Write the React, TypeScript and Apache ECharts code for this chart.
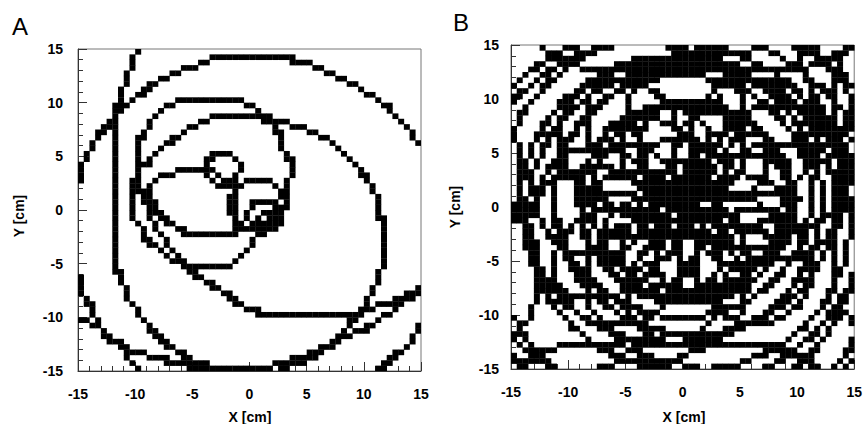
import React, { useEffect, useRef } from "react";
import * as echarts from "echarts";

// ---- binning of the histogram (cm) ----
const BIN = 0.5;
const LO = -15;
const HI = 15;
const NBINS = 60;
const SAMPLE_STEP = 0.4;

// ---- axis ticks ----
const AXIS_MIN = -15;
const AXIS_MAX = 15;
const MAJOR_STEP = 5;

// ---- panel labels / titles ----
const panelLabels = ["A", "B"];
const xTitle = "X [cm]";
const yTitle = "Y [cm]";

// ================= Panel A tracks (waypoints in cm) =================
const trackA_outerTop = [
  [14.9, 6.2], [13.4, 8.2], [12.2, 9.5], [10.8, 10.6], [9.0, 11.7], [7.3, 12.6], [4.9, 13.7],
  [2.9, 14.2], [-0.3, 14.2], [-1.7, 14.1], [-3.5, 14.0], [-5.7, 13.0], [-7.5, 12.3], [-8.9, 11.3],
  [-10.5, 10.1], [-11.9, 8.7], [-12.4, 7.9], [-13.6, 6.4], [-14.2, 5.1], [-14.8, 3.6], [-15.1, 2.3],
];
const trackA_leftLong = [
  [-9.8, 15.1], [-10.25, 13.8], [-10.7, 12.3], [-11.1, 11.3], [-11.4, 10.1], [-11.6, 9.2], [-11.7, 7.9],
  [-11.75, 5.5], [-11.7, 3.6], [-11.6, 1.5], [-11.6, 0.2], [-11.85, -1.7], [-12.0, -2.9], [-11.85, -4.5],
  [-11.3, -6.3], [-10.7, -8.0], [-9.8, -9.6], [-8.8, -11.0], [-7.9, -12.0], [-6.5, -13.1], [-5.1, -13.9],
  [-4.0, -14.5], [-2.5, -14.8], [-0.5, -14.9], [1.5, -14.6], [3.55, -14.1], [5.3, -13.5], [6.8, -12.6],
  [7.9, -11.65], [9.0, -10.1], [9.9, -9.1], [10.6, -7.8], [11.36, -6.0], [11.8, -4.5], [11.7, -2.0],
  [11.36, 0.18], [11.1, 1.4], [10.2, 3.0], [9.3, 4.2], [8.15, 5.4], [7.0, 6.4], [5.5, 7.3], [4.07, 7.9],
  [2.6, 8.2], [0.1, 8.7], [-2.8, 8.7], [-3.7, 8.4], [-5.4, 7.6], [-6.6, 6.7], [-7.5, 6.05], [-8.35, 5.1],
  [-9.2, 4.2], [-9.8, 3.6], [-10.1, 2.6], [-10.5, 0.2], [-10.25, -0.4], [-9.5, -1.7], [-9.1, -2.6],
  [-8.2, -3.5], [-7.3, -4.2], [-6.6, -4.8], [-5.7, -5.1], [-5.15, -5.7], [-4.3, -6.3], [-3.4, -6.96],
  [-2.5, -7.6], [-1.65, -8.2], [-0.77, -8.8], [-0.3, -9.1], [0.86, -9.6], [2.0, -9.8], [9.06, -9.8],
  [10.26, -9.3], [11.4, -8.8], [12.6, -8.75], [12.9, -8.5], [13.9, -8.0], [14.9, -7.4],
];
const trackA_ring = [
  [-5.45, 10.4], [-1.65, 10.4], [0.1, 9.8], [0.86, 9.2], [1.7, 8.5], [2.3, 7.6], [2.6, 6.7], [2.9, 5.75],
  [3.5, 4.5], [3.6, 3.6], [3.25, 2.2], [2.96, 0.0], [2.5, -1.2], [1.4, -1.9], [0.6, -2.4], [0.04, -3.4],
  [-0.8, -4.35], [-1.7, -5.1], [-5.4, -5.1], [-6.7, -4.0], [-7.5, -2.8], [-8.4, -1.2], [-9.0, 0.3],
  [-9.6, 1.9], [-9.9, 3.4], [-9.9, 5.6], [-9.3, 7.1], [-8.7, 8.4], [-7.5, 9.6], [-5.45, 10.4],
];
const trackA_inner = [
  [-1.5, 2.1], [-1.5, -2.3], [-5.4, -2.3], [-6.6, -1.5], [-7.8, -0.75], [-8.35, 0.2], [-8.9, 1.5],
  [-8.6, 2.3], [-8.06, 2.95], [-6.9, 3.4], [-5.7, 3.7], [-4.0, 3.9], [-3.0, 3.3], [-2.1, 2.6], [-1.5, 2.1],
];
const trackA_lowLeft1 = [
  [-15.1, -5.3], [-14.95, -6.5], [-14.9, -7.15], [-14.5, -8.1], [-14.0, -9.0], [-13.1, -10.9],
  [-12.0, -12.1], [-10.5, -13.05], [-8.2, -13.8], [-6.1, -14.3], [-4.5, -14.7], [-3.0, -15.1],
];
const trackA_lowLeft2 = [
  [-15.1, -9.85], [-13.4, -10.7], [-12.3, -11.8], [-11.2, -12.9], [-10.2, -14.3], [-9.8, -14.75], [-9.6, -15.1],
];
const trackA_lowRight1 = [
  [2.3, -15.1], [3.6, -14.5], [5.3, -13.8], [7.3, -12.3], [10.0, -11.2], [12.3, -9.6], [13.6, -8.5], [14.9, -7.6],
];
const trackA_lowRight2 = [
  [11.1, -15.1], [12.9, -13.5], [14.0, -12.3], [14.9, -10.9],
];
const tracksA = [
  trackA_outerTop, trackA_leftLong, trackA_ring, trackA_inner,
  trackA_lowLeft1, trackA_lowLeft2, trackA_lowRight1, trackA_lowRight2,
];
// small curling loops in panel A: [centre x, centre y, radius] (cm)
const loopsA = [
  [-2.4, 3.9, 1.5],
  [0.7, 0.4, 2.4],
  [1.2, -0.5, 1.4],
  [1.6, -1.0, 0.8],
  [1.8, -1.2, 0.4],
];

// ================= Panel B tracks: circles [centre x, centre y, radius] (cm) =================
// soft tracks (radius ~4-4.6) whose loops build the dark ring at ~9.5 cm
const ringsB_loops = [
  [5.6, 0.5, 4.4], [4.8, 2.6, 4.5], [3.3, 4.8, 4.2], [0.7, 5.4, 4.6], [-1.5, 5.4, 4.0],
  [-3.5, 3.7, 4.6], [-4.9, 1.4, 4.3], [-4.2, -1.1, 4.5], [-3.0, -3.4, 4.2], [-0.9, -4.0, 4.4],
  [1.6, -4.3, 4.0], [3.8, -3.0, 4.5], [5.2, -1.3, 4.3],
];
// very soft tracks curling in the centre
const ringsB_core = [
  [1.8, 1.5, 2.0], [-1.8, -0.5, 2.2], [-0.5, 3.5, 3.0],
];
// tracks running along the dark ring
const ringsB_band = [
  [0.3, 0.4, 9.3], [0.6, 0.8, 8.6],
];
// tracks displaced from the vertex (radius 5-6)
const ringsB_displaced = [
  [0.3, 9.0, 5.0], [0.3, -7.7, 5.2], [-7.7, 0.5, 5.0], [8.3, 0.5, 5.5],
  [6.3, 6.5, 5.5], [-5.7, 6.5, 5.3], [-5.7, -5.5, 5.5], [6.3, -5.5, 5.2],
  [-2.4, 8.0, 6.0], [-2.4, -7.0, 6.0], [8.3, 3.4, 6.0], [-7.7, -2.4, 6.0],
];
// large loops around the vertex (radius 11-19), cutting edges and corners
const ringsB_wide = [
  [0.5, -1.0, 14.2], [-1.0, 0.5, 13.2], [1.0, 0.5, 12.3], [-2.0, -2.0, 17.5],
  [-1.5, -2.5, 19.2], [1.5, -1.5, 18.5], [-2.0, 1.5, 18.8], [0.0, 1.0, 11.2],
];
// arcs of tracks whose centres lie outside the frame
const ringsB_outside = [
  [3.0, 24.0, 10.0], [-6.0, 22.0, 9.5], [8.0, 23.0, 10.5],
  [-3.0, -24.0, 10.0], [5.0, -23.0, 10.5], [-8.0, -22.0, 9.5],
  [-24.0, 3.0, 10.0], [-22.0, -6.0, 9.5],
  [24.0, 4.0, 10.5], [23.0, -5.0, 10.0], [22.0, 10.0, 9.0], [22.0, 16.0, 12.0],
];
const ringsB = [
  ...ringsB_loops, ...ringsB_core, ...ringsB_band, ...ringsB_displaced, ...ringsB_wide, ...ringsB_outside,
];

// ---- filling the 2D histogram with the tracks ----
function markBin(x: number, y: number, set: Set<number>) {
  if (x < LO || x >= HI || y < LO || y >= HI) return;
  const ix = Math.floor((x - LO) / BIN);
  const iy = Math.floor((y - LO) / BIN);
  set.add(ix * NBINS + iy);
}
function fillPolyline(pts: number[][], set: Set<number>) {
  for (let i = 0; i < pts.length - 1; i++) {
    const [x1, y1] = pts[i];
    const [x2, y2] = pts[i + 1];
    const len = Math.hypot(x2 - x1, y2 - y1);
    const n = Math.max(1, Math.ceil(len / SAMPLE_STEP));
    for (let k = 0; k <= n; k++) {
      markBin(x1 + ((x2 - x1) * k) / n, y1 + ((y2 - y1) * k) / n, set);
    }
  }
}
function fillCircle(c: number[], set: Set<number>) {
  const [cx, cy, r] = c;
  const n = Math.max(8, Math.ceil((2 * Math.PI * r) / SAMPLE_STEP));
  for (let k = 0; k < n; k++) {
    const a = (2 * Math.PI * k) / n;
    markBin(cx + r * Math.cos(a), cy + r * Math.sin(a), set);
  }
}
function binsToData(set: Set<number>) {
  const out: number[][] = [];
  set.forEach((key) => {
    const ix = Math.floor(key / NBINS);
    const iy = key % NBINS;
    out.push([LO + ix * BIN, LO + iy * BIN]);
  });
  return out;
}
function buildA() {
  const s = new Set<number>();
  tracksA.forEach((t) => fillPolyline(t, s));
  loopsA.forEach((c) => fillCircle(c, s));
  return binsToData(s);
}
function buildB() {
  const s = new Set<number>();
  ringsB.forEach((c) => fillCircle(c, s));
  return binsToData(s);
}

const FONT = "'Liberation Sans', Arial, Helvetica, sans-serif";

function axisPair(idx: number, yMargin: number) {
  const common = {
    type: "value",
    gridIndex: idx,
    min: AXIS_MIN,
    max: AXIS_MAX,
    interval: MAJOR_STEP,
    axisLine: { show: true, onZero: false, lineStyle: { color: "#333", width: 1 } },
    axisTick: { show: true, inside: true, length: 9, lineStyle: { color: "#333", width: 1 } },
    minorTick: { show: true, splitNumber: 5, length: 5, lineStyle: { color: "#333", width: 1 } },
    splitLine: { show: false },
    minorSplitLine: { show: false },
    axisLabel: { color: "#000", fontFamily: FONT, fontWeight: "bold", fontSize: 14 },
  };
  return {
    x: { ...common, axisLabel: { ...common.axisLabel, margin: 16 } },
    y: { ...common, axisLabel: { ...common.axisLabel, margin: yMargin } },
  };
}

function renderCell(params: any, api: any) {
  const x0 = api.value(0);
  const y0 = api.value(1);
  const p1 = api.coord([x0, y0 + BIN]);
  const p2 = api.coord([x0 + BIN, y0]);
  return {
    type: "rect",
    shape: { x: p1[0], y: p1[1], width: p2[0] - p1[0] + 0.3, height: p2[1] - p1[1] + 0.3 },
    style: { fill: "#000" },
  };
}

export default function App() {
  const ref = useRef<HTMLDivElement>(null);
  useEffect(() => {
    if (!ref.current) return;
    const chart = echarts.init(ref.current, undefined, { renderer: "svg" });
    const a = axisPair(0, 15);
    const b = axisPair(1, 12);
    const titleFont = `bold 14px ${FONT}`;
    chart.setOption({
      animation: false,
      backgroundColor: "#fff",
      grid: [
        { left: 78, top: 49, width: 343, height: 322, show: true, borderColor: "#777", borderWidth: 1, backgroundColor: "transparent" },
        { left: 511, top: 45, width: 346, height: 324, show: true, borderColor: "#777", borderWidth: 1, backgroundColor: "transparent" },
      ],
      xAxis: [a.x, b.x],
      yAxis: [a.y, b.y],
      series: [
        { type: "custom", xAxisIndex: 0, yAxisIndex: 0, data: buildA(), renderItem: renderCell, encode: { x: 0, y: 1 }, clip: true, silent: true },
        { type: "custom", xAxisIndex: 1, yAxisIndex: 1, data: buildB(), renderItem: renderCell, encode: { x: 0, y: 1 }, clip: true, silent: true },
      ],
      graphic: [
        { type: "text", x: 12, y: 14, style: { text: panelLabels[0], font: `24px ${FONT}`, fill: "#000" } },
        { type: "text", x: 453, y: 10, style: { text: panelLabels[1], font: `24px ${FONT}`, fill: "#000" } },
        { type: "text", x: 250, y: 417, style: { text: xTitle, font: titleFont, fill: "#000", align: "center", verticalAlign: "middle" } },
        { type: "text", x: 684, y: 417, style: { text: xTitle, font: titleFont, fill: "#000", align: "center", verticalAlign: "middle" } },
        { type: "text", x: 19, y: 216, rotation: Math.PI / 2, style: { text: yTitle, font: titleFont, fill: "#000", align: "center", verticalAlign: "middle" } },
        { type: "text", x: 455, y: 207, rotation: Math.PI / 2, style: { text: yTitle, font: titleFont, fill: "#000", align: "center", verticalAlign: "middle" } },
      ],
    });
    return () => chart.dispose();
  }, []);
  return <div ref={ref} style={{ position: "fixed", left: 0, top: 0, width: 865, height: 424 }} />;
}
